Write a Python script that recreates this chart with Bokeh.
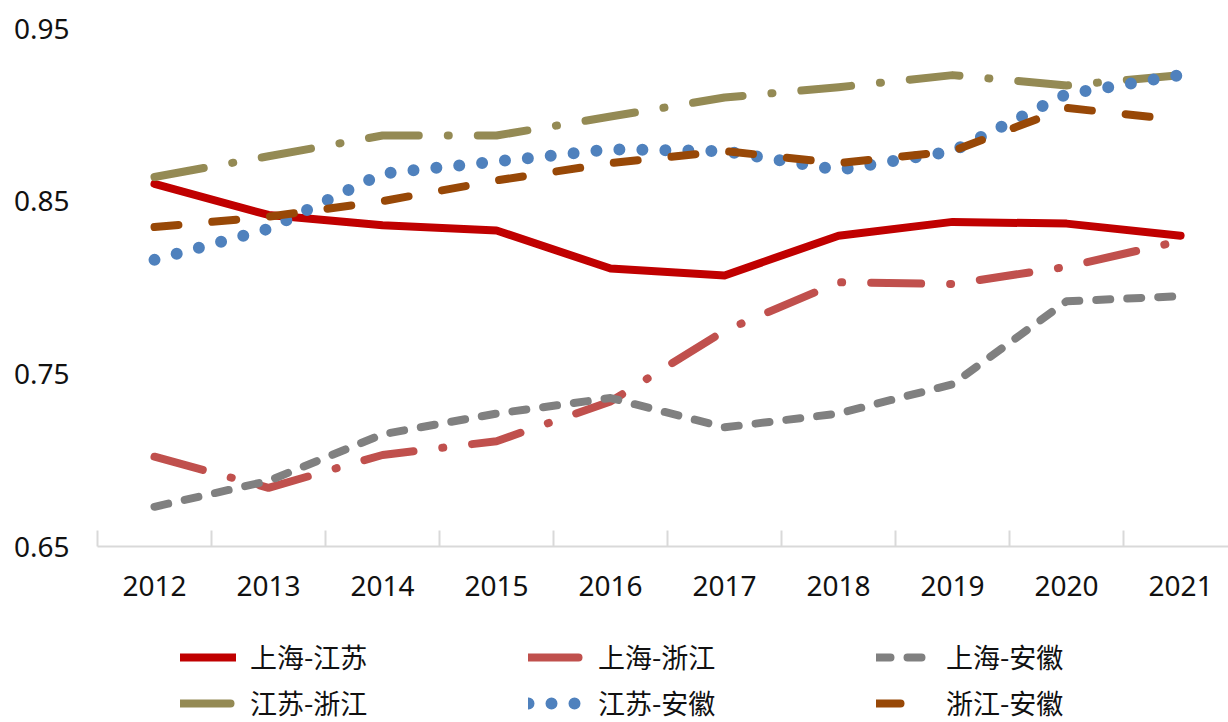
from bokeh.plotting import figure
from bokeh.layouts import column
from bokeh.models import Range1d, FixedTicker, Legend, LegendItem, PrintfTickFormatter
from bokeh.embed import file_html
from bokeh.resources import INLINE

years = [2012, 2013, 2014, 2015, 2016, 2017, 2018, 2019, 2020, 2021]
sh_js = [0.860, 0.842, 0.836, 0.833, 0.811, 0.807, 0.830, 0.838, 0.837, 0.830]
sh_zj = [0.702, 0.684, 0.703, 0.711, 0.734, 0.775, 0.803, 0.802, 0.812, 0.827]
sh_ah = [0.673, 0.688, 0.715, 0.727, 0.736, 0.719, 0.727, 0.744, 0.792, 0.795]
js_zj = [0.864, 0.876, 0.888, 0.888, 0.899, 0.910, 0.916, 0.923, 0.917, 0.923]
js_ah = [0.816, 0.834, 0.866, 0.873, 0.880, 0.879, 0.868, 0.879, 0.912, 0.923]
zj_ah = [0.835, 0.841, 0.850, 0.862, 0.872, 0.879, 0.872, 0.879, 0.904, 0.897]
series_names = ["上海-江苏", "上海-浙江", "上海-安徽", "江苏-浙江", "江苏-安徽", "浙江-安徽"]
y_ticks = [0.65, 0.75, 0.85, 0.95]

W = 1228
p = figure(width=W, height=630, output_backend="svg", toolbar_location=None,
           x_range=Range1d(2011.5, 2021.42), y_range=Range1d(0.65, 0.95),
           min_border_left=97, min_border_right=0, min_border_top=28, min_border_bottom=84)
p.outline_line_color = None
p.xgrid.visible = False
p.ygrid.visible = False

# axes
xa = p.xaxis[0]
xa.ticker = FixedTicker(ticks=years, minor_ticks=[y - 0.5 for y in years] + [years[-1] + 0.5])
xa.formatter = PrintfTickFormatter(format="%d")
xa.major_tick_in = 0
xa.major_tick_out = 0
xa.minor_tick_in = 16
xa.minor_tick_out = 0
xa.minor_tick_line_color = "#D9D9D9"
xa.minor_tick_line_width = 2
xa.axis_line_color = "#D9D9D9"
xa.axis_line_width = 2
xa.major_label_standoff = 29
xa.major_label_text_font = "Noto Sans"
xa.major_label_text_font_size = "28px"
xa.major_label_text_color = "#111111"

ya = p.yaxis[0]
ya.ticker = FixedTicker(ticks=y_ticks)
ya.formatter = PrintfTickFormatter(format="%.2f")
ya.axis_line_color = None
ya.major_tick_line_color = None
ya.minor_tick_line_color = None
ya.major_label_standoff = 22
ya.major_label_text_font = "Noto Sans"
ya.major_label_text_font_size = "28px"
ya.major_label_text_color = "#111111"

styles = [
    (sh_js, "#C00000", 8, None),
    (sh_zj, "#C0504D", 8, "50 29 1 29"),
    (sh_ah, "#808080", 8, "14 17"),
    (js_zj, "#948A54", 8, "50 29 1 29"),
    (js_ah, "#4F81BD", 12, "0 23"),
    (zj_ah, "#984807", 8, "24 34"),
]

# legend strip under the chart; its ranges keep the series lines out of view
pl = figure(width=W, height=92, output_backend="svg", toolbar_location=None,
            x_range=Range1d(0, 1), y_range=Range1d(0, 1),
            min_border_left=0, min_border_right=0, min_border_top=0, min_border_bottom=0)
pl.axis.visible = False
pl.xgrid.visible = False
pl.ygrid.visible = False
pl.outline_line_color = None

items = []
for name, (vals, color, w, dash) in zip(series_names, styles):
    kw = dict(line_color=color, line_width=w, line_cap="round", line_join="round")
    if dash:
        kw["line_dash"] = dash
    p.line(years, vals, **kw)
    r_leg = pl.line(years, vals, **kw)
    items.append(LegendItem(label=name, renderers=[r_leg]))

# Legend fills column by column: reorder so rows read like the reference
ordered = [items[0], items[3], items[1], items[4], items[2], items[5]]
legend = Legend(items=ordered, ncols=3, location=(83, 0), margin=0,
                glyph_width=56, glyph_height=28, label_height=28,
                label_width=271, label_standoff=14, spacing=7, padding=0,
                border_line_color=None, background_fill_alpha=0,
                label_text_font="Noto Sans CJK SC", label_text_font_size="27px",
                label_text_color="#111111")
pl.add_layout(legend)

layout = column(p, pl, spacing=0)
open("out.html", "w").write(file_html(layout, INLINE))
